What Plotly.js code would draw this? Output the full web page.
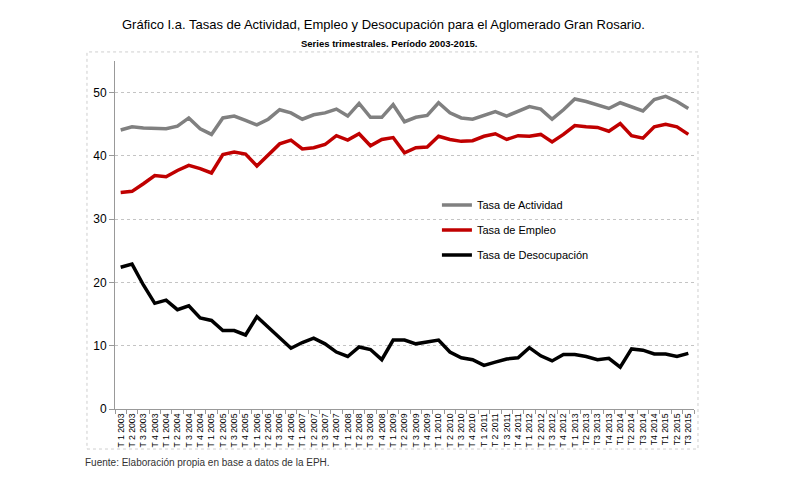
<!DOCTYPE html>
<html>
<head>
<meta charset="utf-8">
<script src="https://cdn.plot.ly/plotly-3.0.1.min.js"></script>
<style>html,body{margin:0;padding:0;background:#fff;}#chart{width:800px;height:483px;}</style>
</head>
<body>
<div id="chart"></div>
<script>
const trimestres = [
 "T 1 2003","T 2 2003","T 3 2003","T 4 2003",
 "T 1 2004","T 2 2004","T 3 2004","T 4 2004",
 "T 1 2005","T 2 2005","T 3 2005","T 4 2005",
 "T 1 2006","T 2 2006","T 3 2006","T 4 2006",
 "T 1 2007","T 2 2007","T 3 2007","T 4 2007",
 "T 1 2008","T 2 2008","T 3 2008","T 4 2008",
 "T 1 2009","T 2 2009","T 3 2009","T 4 2009",
 "T 1 2010","T 2 2010","T 3 2010","T 4 2010",
 "T 1 2011","T 2 2011","T 3 2011","T 4 2011",
 "T 1 2012","T 2 2012","T 3 2012","T 4 2012",
 "T 1 2013","T2 2013","T3 2013","T4 2013",
 "T1 2014","T2 2014","T3 2014","T4 2014",
 "T1 2015","T2 2015","T3 2015"
];
const tasaActividad = [
 44.1,44.6,44.4,44.3,44.3,44.7,46.0,44.3,43.4,46.0,46.3,45.6,44.9,45.8,47.3,46.8,
 45.8,46.5,46.8,47.4,46.3,48.3,46.1,46.1,48.1,45.4,46.1,46.4,48.4,46.8,46.0,45.8,
 46.4,47.0,46.3,47.1,47.8,47.4,45.8,47.3,49.0,48.6,48.1,47.5,48.4,47.7,47.1,48.9,
 49.4,48.6,47.5
];
const tasaEmpleo = [
 34.2,34.4,35.6,36.9,36.7,37.7,38.5,38.0,37.3,40.2,40.6,40.3,38.4,40.1,41.9,42.5,
 41.1,41.3,41.8,43.2,42.5,43.5,41.6,42.6,42.9,40.5,41.3,41.4,43.1,42.6,42.3,42.4,
 43.1,43.5,42.6,43.2,43.1,43.4,42.2,43.4,44.8,44.6,44.5,43.9,45.1,43.2,42.8,44.6,
 45.0,44.6,43.4
];
const tasaDesocupacion = [
 22.4,22.9,19.6,16.7,17.2,15.7,16.3,14.4,14.0,12.4,12.4,11.7,14.6,12.9,11.3,9.6,
 10.5,11.2,10.3,9.0,8.3,9.8,9.4,7.8,10.9,10.9,10.3,10.6,10.9,9.0,8.1,7.8,
 6.9,7.4,7.9,8.1,9.7,8.4,7.6,8.6,8.6,8.3,7.8,8.0,6.6,9.5,9.3,8.7,
 8.7,8.3,8.8
];
const serieNombres = ["Tasa de Actividad","Tasa de Empleo","Tasa de Desocupación"];
const serieColores = ["#808080","#C00000","#000000"];

const FONT = "'Liberation Sans Narrow', 'Arial Narrow', 'Liberation Sans', Arial, sans-serif";
const series = [tasaActividad, tasaEmpleo, tasaDesocupacion];
const traces = series.map((vals, i) => ({
  type: "scatter", mode: "lines",
  x: trimestres, y: vals, name: serieNombres[i],
  legendgroup: "g" + i,
  line: {color: serieColores[i], width: 3.5},
  hoverinfo: "x+y"
}));

const layout = {
  width: 800, height: 483,
  margin: {l: 115, r: 106, t: 61, b: 74},
  paper_bgcolor: "#fff", plot_bgcolor: "#fff",
  font: {family: FONT, color: "#000"},
  showlegend: true,
  legend: {
    x: 0.556, y: 0.628, xanchor: "left", yanchor: "top",
    bgcolor: "rgba(0,0,0,0)", borderwidth: 0,
    font: {family: FONT, size: 11, color: "#000"},
    tracegroupgap: 6, itemwidth: 30
  },
  xaxis: {
    type: "category", range: [-0.5, 50.5],
    tickmode: "array", tickvals: trimestres, ticktext: trimestres,
    tickangle: -90, tickfont: {family: FONT, size: 8.7, color: "#000"},
    showgrid: false, showline: true, linecolor: "#999", linewidth: 1,
    ticks: "outside", ticklen: 4, tickcolor: "#999", tickson: "boundaries",
    zeroline: false, automargin: false
  },
  yaxis: {
    range: [0, 55], tickvals: [0,10,20,30,40,50],
    tickfont: {family: FONT, size: 12, color: "#000"},
    showgrid: true, gridcolor: "#c4c4c4", griddash: "dot", gridwidth: 1,
    showline: true, linecolor: "#999", linewidth: 1,
    ticks: "outside", ticklen: 5, tickcolor: "#999",
    zeroline: false, automargin: false
  },
  shapes: [
    {type: "rect", xref: "paper", yref: "paper", x0: -0.0484, x1: 1.0069, y0: -0.115, y1: 1.026,
     line: {color: "#cfcfcf", width: 1, dash: "dot"}, layer: "below"}
  ],
  annotations: [
    {xref: "paper", yref: "paper", x: (383-115)/579, y: (409-24)/348, xanchor: "center", yanchor: "middle",
     text: "Gráfico I.a. Tasas de Actividad, Empleo y Desocupación para el Aglomerado Gran Rosario.",
     showarrow: false, font: {family: FONT, size: 13, color: "#000"}},
    {xref: "paper", yref: "paper", x: (389-115)/579, y: (409-43)/348, xanchor: "center", yanchor: "middle",
     text: "<b>Series trimestrales. Período 2003-2015.</b>",
     showarrow: false, font: {family: FONT, size: 9.5, color: "#000"}},
    {xref: "paper", yref: "paper", x: (83-115)/579, y: (409-462)/348, xanchor: "left", yanchor: "middle",
     text: "Fuente: Elaboración propia en base a datos de la EPH.",
     showarrow: false, font: {family: FONT, size: 10, color: "#333"}}
  ]
};

Plotly.newPlot("chart", traces, layout, {displayModeBar: false, staticPlot: true});
</script>
</body>
</html>
